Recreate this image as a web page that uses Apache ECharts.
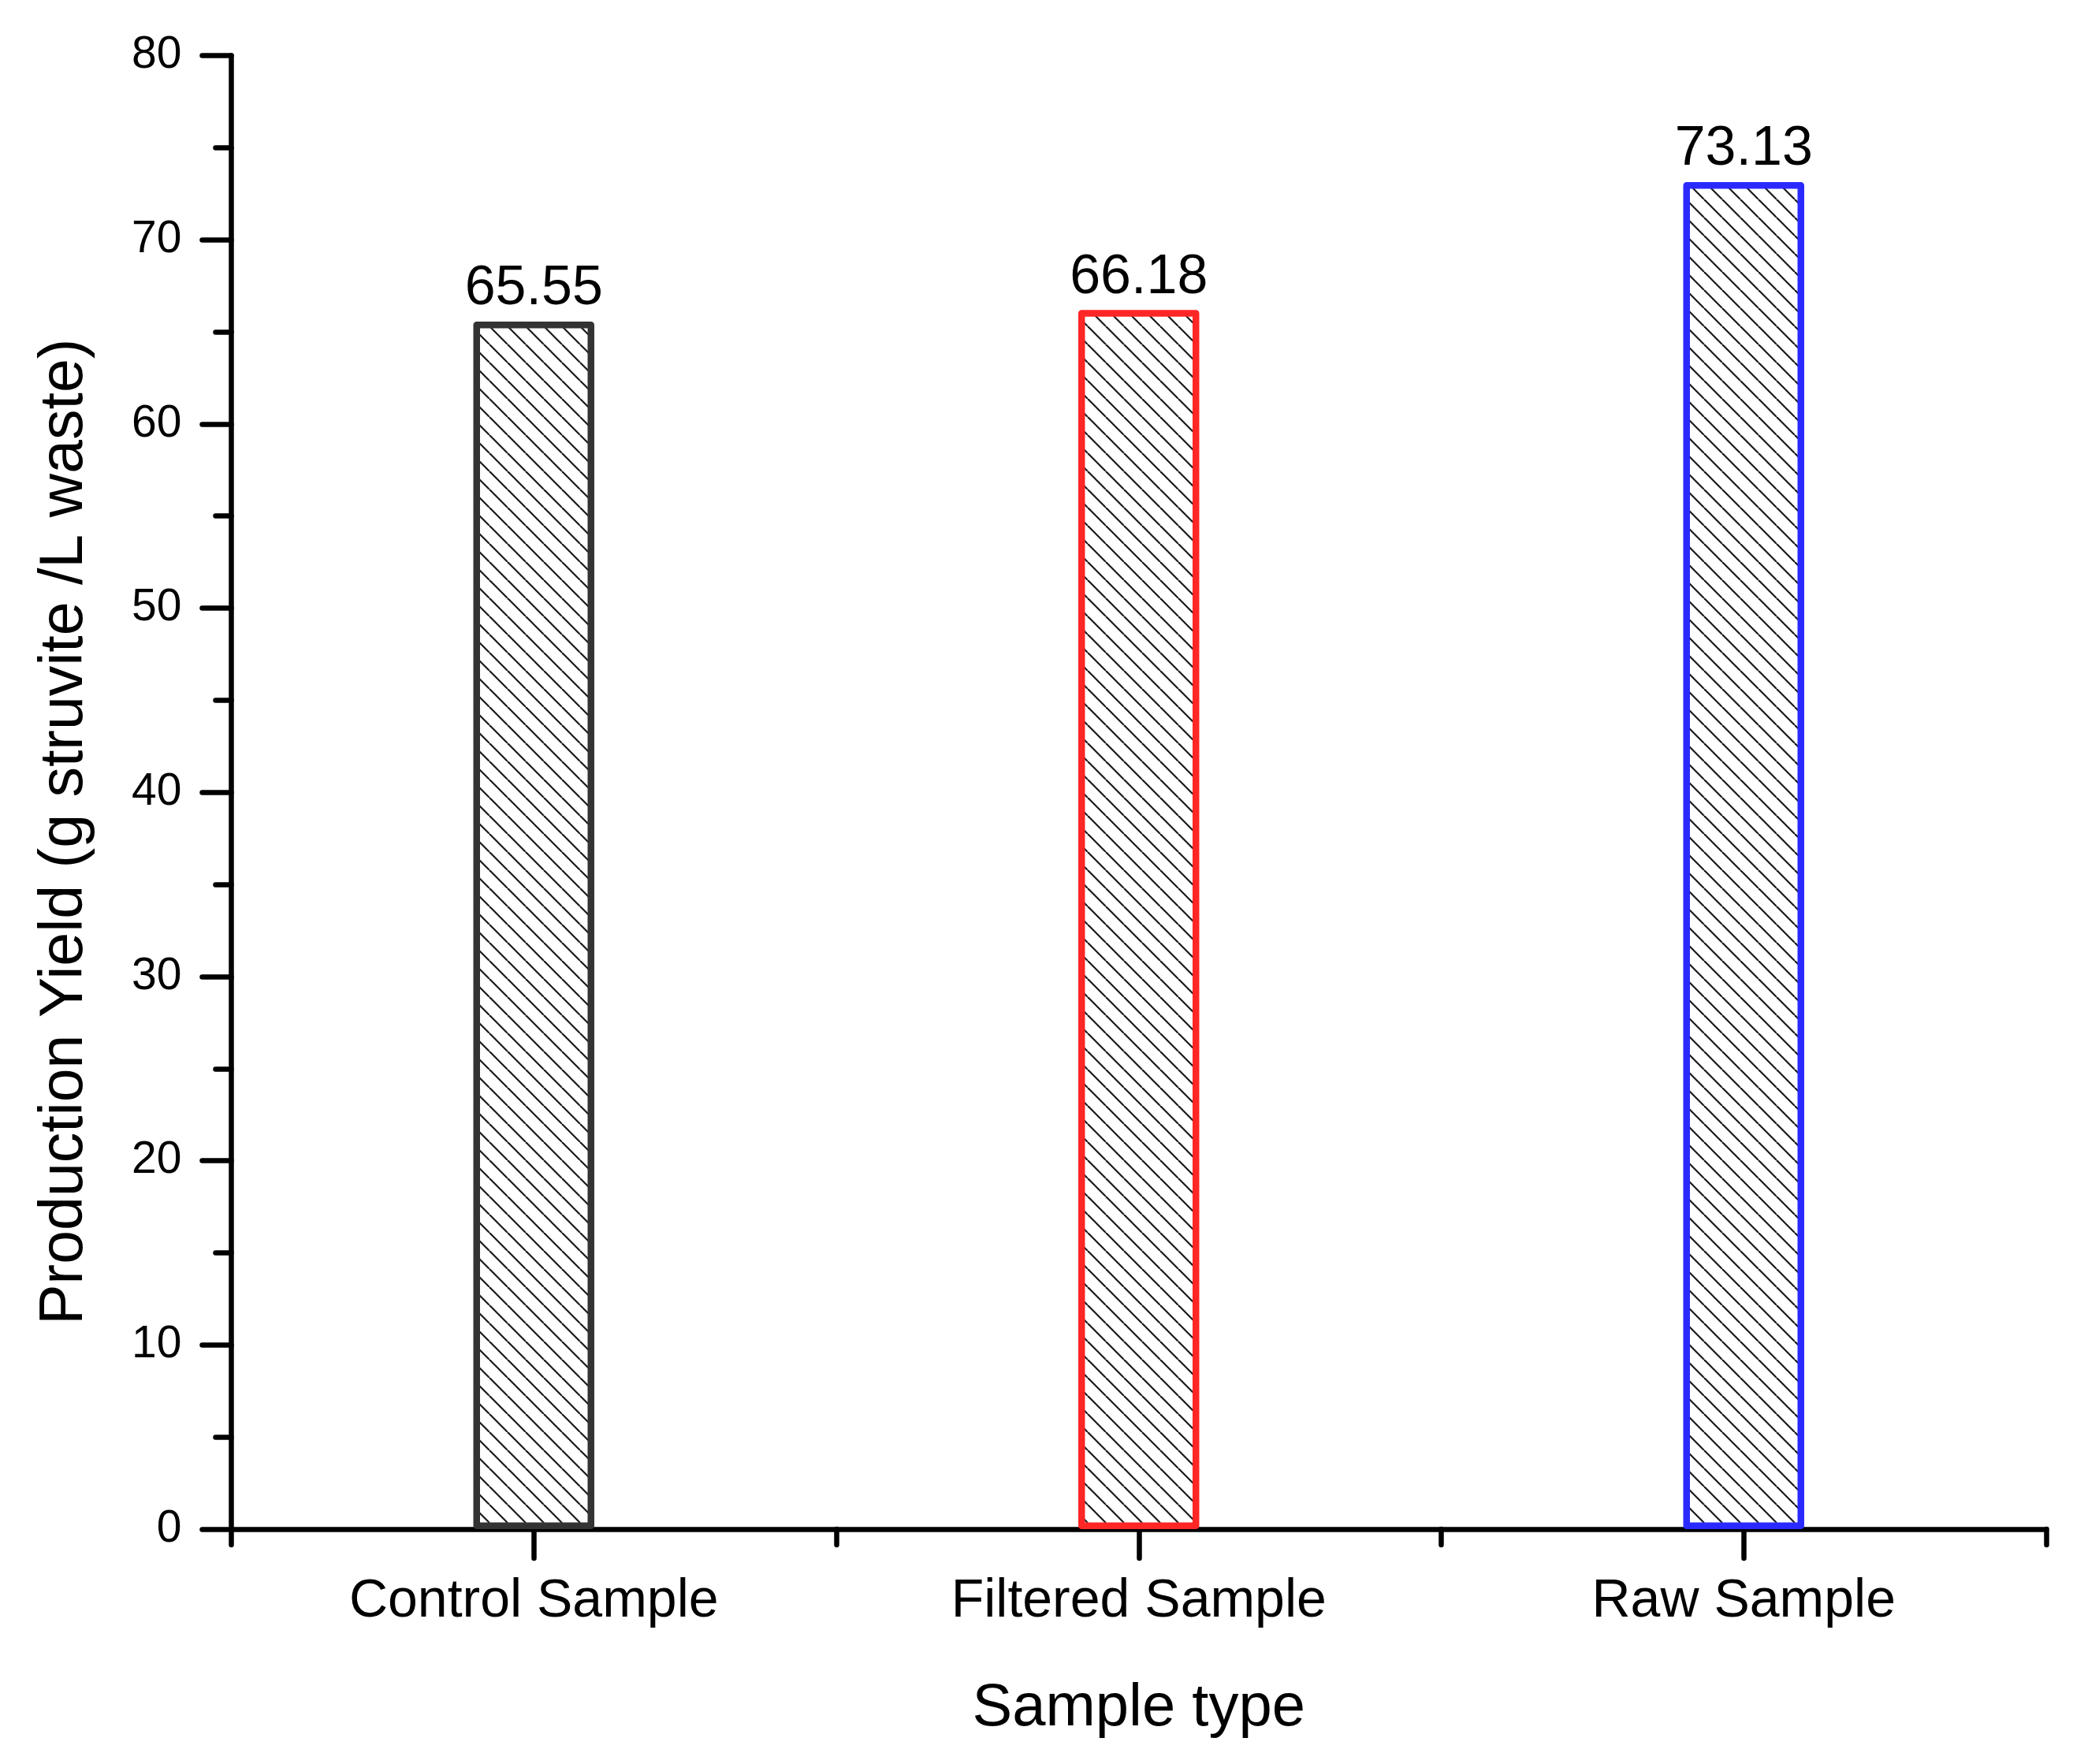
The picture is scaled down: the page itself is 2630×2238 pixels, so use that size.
<!DOCTYPE html>
<html>
<head>
<meta charset="utf-8">
<script src="https://cdn.jsdelivr.net/npm/echarts@6/dist/echarts.min.js"></script>
<style>
html,body{margin:0;padding:0;background:#fff;}
#chart{width:2630px;height:2238px;}
</style>
</head>
<body>
<div id="chart"></div>
<script>
// ---- data ----
const categories = ['Control Sample', 'Filtered Sample', 'Raw Sample'];
const yieldValues = [65.55, 66.18, 73.13];
const yTicks = [0, 10, 20, 30, 40, 50, 60, 70, 80];
const barBorderColors = ['#333333', '#ff2626', '#2a2aff'];

const FONT = "'Liberation Sans', Arial, sans-serif";

function makeHatch() {
  const s = 23;
  const c = document.createElement('canvas');
  c.width = s; c.height = s;
  const ctx = c.getContext('2d');
  ctx.fillStyle = '#ffffff';
  ctx.fillRect(0, 0, s, s);
  ctx.strokeStyle = '#1a1a1a';
  ctx.lineWidth = 2.2;
  for (let k = -1; k <= 1; k++) {
    ctx.beginPath();
    ctx.moveTo(k * s, 0);
    ctx.lineTo(k * s + s, s);
    ctx.stroke();
  }
  return c;
}
const hatch = makeHatch();

const chart = echarts.init(document.getElementById('chart'), null, {renderer: 'canvas'});

const seriesData = yieldValues.map((v, i) => ({
  value: v,
  itemStyle: {
    color: {image: hatch, repeat: 'repeat'},
    borderColor: barBorderColors[i],
    borderWidth: 8.5,
    borderJoin: 'round'
  }
}));

const AXW = 6.5;

const option = {
  backgroundColor: '#ffffff',
  animation: false,
  grid: {left: 293.5, right: 34, top: 70.4, bottom: 298, containLabel: false},
  xAxis: [
    {
      type: 'category',
      data: categories,
      position: 'bottom',
      name: 'Sample type',
      nameLocation: 'middle',
      nameGap: 190,
      nameTextStyle: {fontFamily: FONT, fontSize: 76, color: '#000'},
      axisLine: {show: true, lineStyle: {color: '#000', width: AXW, cap: 'round'}},
      axisTick: {show: true, alignWithLabel: true, length: 37, lineStyle: {color: '#000', width: AXW, cap: 'round'}},
      axisLabel: {fontFamily: FONT, fontSize: 68, color: '#000', margin: 58},
      splitLine: {show: false}
    },
    {
      type: 'category',
      data: categories,
      position: 'bottom',
      axisLine: {show: false},
      axisTick: {show: true, alignWithLabel: false, length: 20, lineStyle: {color: '#000', width: AXW, cap: 'round'}},
      axisLabel: {show: false},
      splitLine: {show: false}
    }
  ],
  yAxis: {
    type: 'value',
    min: yTicks[0],
    max: yTicks[yTicks.length - 1],
    interval: yTicks[1] - yTicks[0],
    name: 'Production Yield (g struvite /L waste)',
    nameLocation: 'middle',
    nameGap: 172,
    nameTextStyle: {fontFamily: FONT, fontSize: 77, color: '#000', padding: [0, 100, 0, 0]},
    axisLine: {show: true, lineStyle: {color: '#000', width: AXW, cap: 'round'}},
    axisTick: {show: true, inside: false, length: 37, lineStyle: {color: '#000', width: AXW, cap: 'round'}},
    minorTick: {show: true, splitNumber: 2, length: 20, lineStyle: {color: '#000', width: AXW, cap: 'round'}},
    axisLabel: {fontFamily: FONT, fontSize: 57, color: '#000', margin: 63},
    splitLine: {show: false},
    minorSplitLine: {show: false}
  },
  series: [{
    type: 'bar',
    xAxisIndex: 0,
    data: seriesData,
    barWidth: '20%',
    label: {
      show: true,
      position: 'top',
      distance: 6,
      fontFamily: FONT,
      fontSize: 70,
      color: '#000',
      formatter: p => p.value.toFixed(2)
    }
  }]
};
chart.setOption(option);
</script>
</body>
</html>
